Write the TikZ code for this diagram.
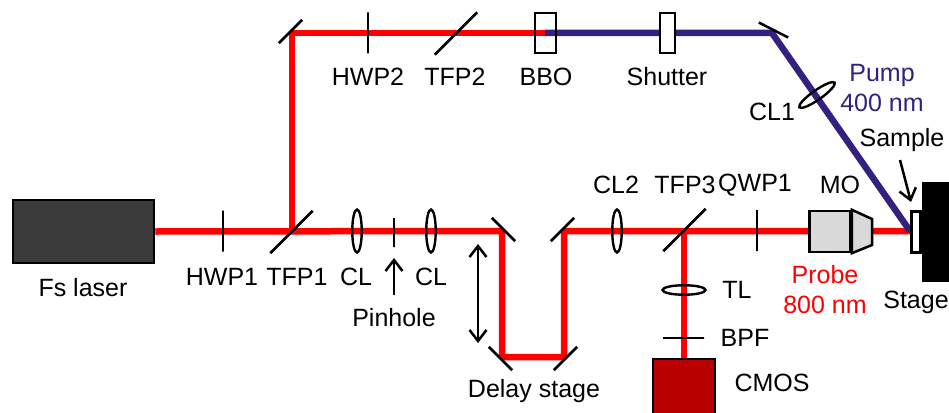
\documentclass[tikz,border=0pt]{standalone}
\usepackage{fontspec}
\setmainfont{Liberation Sans}
\usetikzlibrary{arrows.meta, shapes.geometric}
\definecolor{laserred}{HTML}{ff0000}
\definecolor{pumpblue}{HTML}{33207f}
\definecolor{lasergray}{HTML}{3b3b3b}
\definecolor{cmosred}{HTML}{b80000}
\definecolor{mogray}{HTML}{d9d9d9}

\begin{document}
\begin{tikzpicture}[x=1pt, y=-1pt, font=\fontsize{25}{30}\selectfont, >={Straight Barb[length=11pt, width=17pt, line width=2.5pt]}]

    % --- styles ---
    \tikzset{
        box/.style={rectangle, draw=black, line width=2.5pt, inner sep=0pt},
        plate/.style={rectangle, draw=black, line width=2.5pt, minimum width=0pt, minimum height=41pt, inner sep=0pt},
        longplate/.style={plate, minimum height=60pt},
        mirror/.style={plate, minimum height=33pt},
        lens/.style={ellipse, draw=black, line width=2.4pt, minimum width=9.5pt, minimum height=43pt, inner sep=0pt},
        redbeam/.style={draw=laserred, line width=6.5pt, line join=bevel},
        bluebeam/.style={draw=pumpblue, line width=6.5pt, line join=bevel},
        pointer/.style={->, line width=2.5pt, draw=black}
    }

    \useasboundingbox (0,0) rectangle (949,412);
    \clip (0,0) rectangle (949,412);

    % --- positions on the beams ---
    \coordinate (mirA)  at (292,33);
    \coordinate (pumpM) at (772,33);
    \coordinate (focus) at (910,231);
    \coordinate (doubler) at (545,33);
    \coordinate (delayA) at (502,231);
    \coordinate (delayB) at (502,357);
    \coordinate (delayC) at (564,357);
    \coordinate (delayD) at (564,231);
    \coordinate (split)  at (684,231);
    \coordinate (splitB) at (292,231);

    % --- main parts ---
    \node[box, fill=lasergray, minimum width=141pt, minimum height=63pt] (laser) at (83.5,231.5) {};
    \node[box, fill=cmosred, minimum width=62pt, minimum height=70pt] (cmos) at (684,394) {};
    \node[box, draw=black, fill=black, minimum width=30pt, minimum height=98pt] (stage) at (938,232) {};

    % --- beams ---
    \draw[redbeam] (laser.east) -- (delayA) -- (delayB) -- (delayC) -- (delayD) -- (focus);
    \draw[redbeam] (splitB) -- (mirA) -- (doubler);
    \draw[redbeam] (split) -- (cmos.north);
    \draw[bluebeam] (doubler) -- (pumpM) -- (focus);

    % --- plates and mirrors ---
    \node[plate]                 (HWPa)   at (223,231) {};
    \node[longplate, rotate=-45] (TFPa)   at (291.5,232) {};
    \node[plate, minimum height=29pt] (pinhole) at (394,232.5) {};
    \node[plate]                 (QWPa)   at (757,230.5) {};
    \node[plate]                 (HWPb)   at (368,33) {};
    \node[longplate, rotate=-45] (TFPb)   at (456,33.5) {};
    \node[longplate, rotate=-45] (TFPc)   at (684.5,230) {};
    \node[plate, rotate=90]      (BPF)    at (683.5,338) {};
    \node[mirror, rotate=-45]    (mirrA)  at (290.5,31.5) {};
    \node[mirror, rotate=63]     (mirrB)  at (773.5,30) {};
    \node[mirror, rotate=45]     (mirrC)  at (503.5,229.5) {};
    \node[mirror, rotate=45]     (mirrD)  at (500.5,358.5) {};
    \node[mirror, rotate=-45]    (mirrE)  at (562.5,229.5) {};
    \node[mirror, rotate=-45]    (mirrF)  at (565.5,358.5) {};

    % --- lenses ---
    \node[lens] (CLa)  at (357,231) {};
    \node[lens] (CLb)  at (431,231) {};
    \node[lens] (CLc)  at (617,231) {};
    \node[lens, rotate=90]  (TL)   at (684,290) {};
    \node[lens, rotate=-55] (CLd)  at (817,95) {};

    % --- crystal, shutter, sample ---
    \node[box, minimum width=21pt, minimum height=40pt] (BBO) at (545.5,33) {};
    \node[box, fill=white, minimum width=15pt, minimum height=40pt] (shutter) at (667.5,33) {};
    \node[box, fill=white, minimum width=9pt, minimum height=41pt] (sample) at (916,232) {};

    % --- objective ---
    \node[box, fill=mogray, minimum width=41pt, minimum height=41pt] (MO) at (830,231.5) {};
    \draw[line width=2.5pt, fill=mogray, line join=miter] (MO.north east) -- (872,219) -- (872,245) -- (MO.south east) -- cycle;

    % --- labels ---
    \node (lLaser) at (83,288) {Fs laser};
    \node (lHWPa) at (222,277) {HWP1};
    \node (lTFPa) at (297,277) {TFP1};
    \node (lCLa) at (356,277) {CL};
    \node (lCLb) at (431,277) {CL};
    \node (lPin) at (394,318) {Pinhole};
    \node (lDelay) at (534,391) {Delay stage};
    \node (lCLc) at (616,185) {CL2};
    \node (lTFPc) at (685,185) {TFP3};
    \node (lQWP) at (755,185) {QWP1};
    \node (lMO) at (840,185) {MO};
    \node[align=center, text=laserred] (lProbe) at (825,290) {Probe\\800 nm};
    \node (lStage) at (916,302) {Stage};
    \node (lTL) at (737,290) {TL};
    \node (lBPF) at (745,338) {BPF};
    \node (lCMOS) at (772,383) {CMOS};
    \node (lHWPb) at (368,77) {HWP2};
    \node (lTFPb) at (455,77) {TFP2};
    \node (lBBO) at (546,77) {BBO};
    \node (lShut) at (667,77) {Shutter};
    \node (lCLd) at (772,112) {CL1};
    \node[align=center, text=pumpblue] (lPump) at (882,88) {Pump\\400 nm};
    \node (lSample) at (902,140) {Sample};

    % --- pointers ---
    \coordinate (delayUp) at (478,244);
    \coordinate (delayDn) at (478,343);
    \coordinate (sampleFrom) at (900,160);
    \coordinate (sampleTo) at (911,202);
    \coordinate (pinFrom) at (394,295);
    \coordinate (pinTo) at (394,258);
    \draw[pointer] (pinFrom) -- (pinTo);
    \draw[pointer, <->] (delayUp) -- (delayDn);
    \draw[pointer] (sampleFrom) -- (sampleTo);

\end{tikzpicture}
\end{document}
